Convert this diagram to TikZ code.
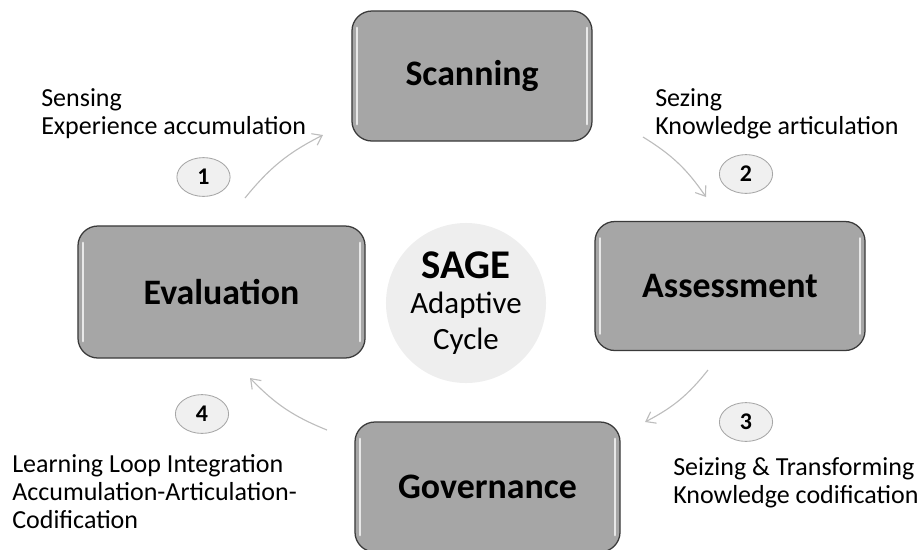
\documentclass[tikz,border=0pt]{standalone}
\usepackage{fontspec}
\setmainfont{Carlito}
\usepackage{tikz}
\usetikzlibrary{shapes.geometric, arrows.meta, positioning}
\usepackage{xcolor}
\definecolor{boxgray}{HTML}{A6A6A6}
\definecolor{boxedge}{HTML}{3A3A3A}
\definecolor{hubgray}{HTML}{EEEEEE}
\definecolor{numgray}{HTML}{F0F0F0}
\definecolor{arrgray}{HTML}{BDBDBD}

\begin{document}
\begin{tikzpicture}[
    x=0.025cm, y=-0.025cm,
    box/.style={draw=boxedge, line width=0.9pt, fill=boxgray, rounded corners=0.5cm,
        font=\bfseries\fontsize{25.5}{30}\selectfont, align=center,
        path picture={
            \draw[white, opacity=0.75, line width=1.8pt, line cap=round]
                ([shift={(3.5pt,-12pt)}]path picture bounding box.north west) --
                ([shift={(3.5pt,12pt)}]path picture bounding box.south west);
            \draw[white, opacity=0.75, line width=1.8pt, line cap=round]
                ([shift={(-3.5pt,-12pt)}]path picture bounding box.north east) --
                ([shift={(-3.5pt,12pt)}]path picture bounding box.south east);
        }},
    hub/.style={circle, fill=hubgray, minimum size=4cm, inner sep=0pt, align=center,
        font=\fontsize{22}{25}\selectfont},
    num/.style={ellipse, draw=gray!70, line width=0.6pt, fill=numgray, minimum width=1.33cm,
        minimum height=0.97cm, inner sep=0pt, font=\bfseries\fontsize{17}{19}\selectfont},
    lbl/.style={anchor=base west, inner sep=0pt, align=left,
        font=\fontsize{18.5}{19.8}\selectfont},
    arr/.style={-{Straight Barb[length=2.2mm, width=3.2mm]}, draw=arrgray, line width=0.8pt},
]
\useasboundingbox (0,0) rectangle (922,549);

% the four stages
\node[box, minimum width=6cm, minimum height=3.25cm] (scan) at (472,76) {Scanning};
\node[box, minimum width=6.75cm, minimum height=3.225cm] (assess) at (730,286) {Assessment};
\node[box, minimum width=6.625cm, minimum height=3.25cm] (gov) at (487.5,487) {Governance};
\node[box, minimum width=7.175cm, minimum height=3.3cm] (eval) at (221.5,292) {Evaluation};

% centre
\node[hub] (sage) at (466,303) {{\fontsize{29}{25}\selectfont\bfseries SAGE}\\Adaptive\\Cycle};

% step numbers
\node[num] (n1) at (203.5,177) {1};
\node[num] (n2) at (746,174) {2};
\node[num] (n3) at (746,422) {3};
\node[num] (n4) at (202,414) {4};

% step labels (anchored on their last line)
\node[lbl] (t1) at (41,134) {Sensing\\Experience accumulation};
\node[lbl] (t2) at (655,134) {Sezing\\Knowledge articulation};
\node[lbl] (t3) at (673,503) {Seizing \& Transforming\\Knowledge codification};
\node[lbl] (t4) at (12,528) {Learning Loop Integration\\Accumulation-Articulation-\\Codification};

% cycle arrows
\coordinate (a1s) at (245,198); \coordinate (a1e) at (323,135);
\coordinate (a2s) at (643,137); \coordinate (a2e) at (706,197);
\coordinate (a3s) at (708,370); \coordinate (a3e) at (645,422);
\coordinate (a4s) at (327,430); \coordinate (a4e) at (250,378);

\foreach \a/\b in {a1s/a1e, a2s/a2e, a3s/a3e, a4s/a4e} {
    \draw[arr] (\a) to[bend left=12] (\b);
}

\end{tikzpicture}
\end{document}
